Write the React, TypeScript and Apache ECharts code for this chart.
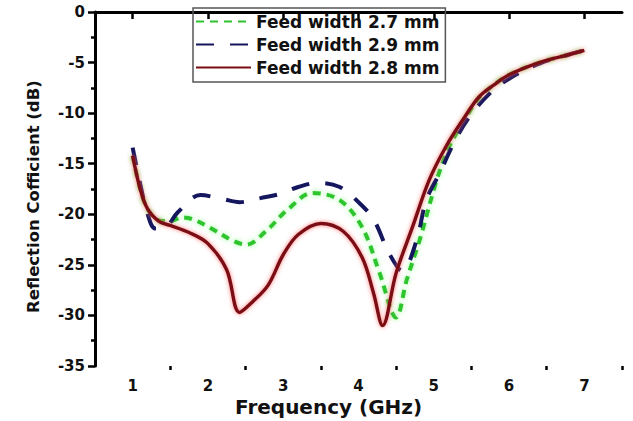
import React, { useEffect, useRef } from "react";
import * as echarts from "echarts";

const seriesNames = ["Feed width 2.7 mm", "Feed width 2.9 mm", "Feed width 2.8 mm"];

const freqGreen = [1.0, 1.1, 1.2, 1.35, 1.5, 1.65, 1.8, 2.02, 2.33, 2.51, 2.78, 3.05, 3.39, 3.75, 4.05, 4.28, 4.5, 4.64, 4.81, 5.04, 5.2, 5.4, 5.6, 5.8, 6.0, 6.4, 6.8, 7.0];
const valGreen = [-14.2, -17.5, -19.5, -20.6, -20.7, -20.3, -20.5, -21.3, -22.6, -23.0, -21.6, -19.6, -17.9, -18.6, -21.3, -25.8, -30.2, -26.5, -22.6, -16.6, -13.4, -10.8, -8.5, -7.2, -6.2, -5.0, -4.2, -3.8];

const freqBlue = [1.0, 1.1, 1.2, 1.3, 1.45, 1.6, 1.9, 2.2, 2.42, 2.7, 2.95, 3.2, 3.45, 3.75, 4.0, 4.2, 4.41, 4.58, 4.77, 4.9, 5.08, 5.25, 5.45, 5.75, 6.0, 6.4, 6.8, 7.0];
const valBlue = [-13.4, -17.0, -20.0, -21.4, -21.2, -19.8, -18.1, -18.5, -18.8, -18.4, -18.0, -17.3, -16.9, -17.3, -18.8, -20.5, -23.9, -25.6, -22.6, -18.6, -15.9, -13.2, -10.6, -8.0, -6.6, -5.1, -4.2, -3.8];

const freqRed = [1.0, 1.1, 1.2, 1.35, 1.5, 1.75, 2.0, 2.25, 2.42, 2.6, 2.8, 3.0, 3.2, 3.5, 3.8, 4.05, 4.2, 4.32, 4.5, 4.72, 4.94, 5.17, 5.4, 5.6, 5.8, 6.0, 6.4, 6.8, 7.0];
const valRed = [-14.2, -17.5, -19.5, -20.7, -21.1, -21.8, -22.9, -25.5, -29.7, -28.6, -27.0, -24.0, -22.0, -20.9, -21.7, -24.3, -27.8, -31.0, -25.8, -21.2, -16.6, -13.2, -10.5, -8.4, -7.2, -6.2, -5.0, -4.2, -3.8];

const xMajorTicks = [1, 2, 3, 4, 5, 6, 7];
const xMinorTicks = [1.5, 2.5, 3.5, 4.5, 5.5, 6.5, 7.5];

const pair = (xs: number[], ys: number[]) => xs.map((x, i) => [x, ys[i]]);

const FONT = '"DejaVu Sans", Verdana, sans-serif';

export default function App() {
  const ref = useRef<HTMLDivElement>(null);
  useEffect(() => {
    if (!ref.current) return;
    const chart = echarts.init(ref.current, null, { renderer: "svg" });
    const axisLine = { show: true, lineStyle: { color: "#000", width: 3 } };
    chart.setOption({
      animation: false,
      backgroundColor: "#fff",
      grid: { left: 95, right: 11, top: 12, bottom: 55 },
      legend: {
        orient: "vertical",
        left: 193,
        top: 8,
        data: seriesNames,
        borderColor: "#555",
        borderWidth: 1.5,
        padding: [5, 6, 6, 2],
        itemGap: 6,
        itemWidth: 55,
        itemHeight: 14,
        itemStyle: { opacity: 0 },
        textStyle: { fontSize: 17, fontWeight: "bold", color: "#111", fontFamily: FONT },
      },
      xAxis: [
        {
          type: "value",
          min: 0.5,
          max: 7.5,
          axisLine,
          splitLine: { show: false },
          axisTick: { show: true, customValues: xMajorTicks, length: 7, lineStyle: { color: "#000", width: 2.5 } },
          axisLabel: {
            customValues: xMajorTicks,
            fontSize: 15,
            fontWeight: "bold",
            color: "#111",
            fontFamily: FONT,
            margin: 12,
          },
        },
        {
          type: "value",
          min: 0.5,
          max: 7.5,
          position: "bottom",
          axisLine: { show: false },
          splitLine: { show: false },
          axisTick: { show: true, customValues: xMinorTicks, length: 4, lineStyle: { color: "#000", width: 2.5 } },
          axisLabel: { show: false },
        },
      ],
      yAxis: {
        type: "value",
        min: -35,
        max: 0,
        interval: 5,
        axisLine,
        splitLine: { show: false },
        axisTick: { show: true, length: 7, lineStyle: { color: "#000", width: 2.5 } },
        minorTick: { show: true, splitNumber: 2, length: 4, lineStyle: { color: "#000", width: 2.5 } },
        axisLabel: { fontSize: 15, fontWeight: "bold", color: "#111", fontFamily: FONT, margin: 10 },
      },
      graphic: [
        {
          type: "text",
          left: 235,
          top: 397,
          style: { text: "Frequency (GHz)", fontSize: 20, fontWeight: "bold", fill: "#111", fontFamily: FONT },
        },
        {
          type: "text",
          x: 25,
          y: 313,
          rotation: Math.PI / 2,
          style: { text: "Reflection Cofficient (dB)", fontSize: 16.5, fontWeight: "bold", fill: "#111", fontFamily: FONT },
        },
      ],
      series: [
        {
          name: seriesNames[0],
          type: "line",
          data: pair(freqGreen, valGreen),
          smooth: 0.35,
          symbol: "none",
          z: 3,
          lineStyle: { color: "#2fc42f", width: 4, type: [8, 6], shadowColor: "rgba(120,255,120,0.8)", shadowBlur: 5 },
          itemStyle: { color: "#2fc42f" },
        },
        {
          name: seriesNames[1],
          type: "line",
          data: pair(freqBlue, valBlue),
          smooth: 0.35,
          symbol: "none",
          z: 4,
          lineStyle: { color: "#15175e", width: 4, type: [18, 16] },
          itemStyle: { color: "#15175e" },
        },
        {
          name: seriesNames[2],
          type: "line",
          data: pair(freqRed, valRed),
          smooth: 0.35,
          symbol: "none",
          z: 5,
          lineStyle: { color: "#7a0f12", width: 3.5, shadowColor: "rgba(255,90,90,0.8)", shadowBlur: 4 },
          itemStyle: { color: "#7a0f12" },
        },
      ],
    });
    return () => chart.dispose();
  }, []);
  return <div ref={ref} style={{ position: "fixed", left: 0, top: 0, width: 633, height: 421 }} />;
}
